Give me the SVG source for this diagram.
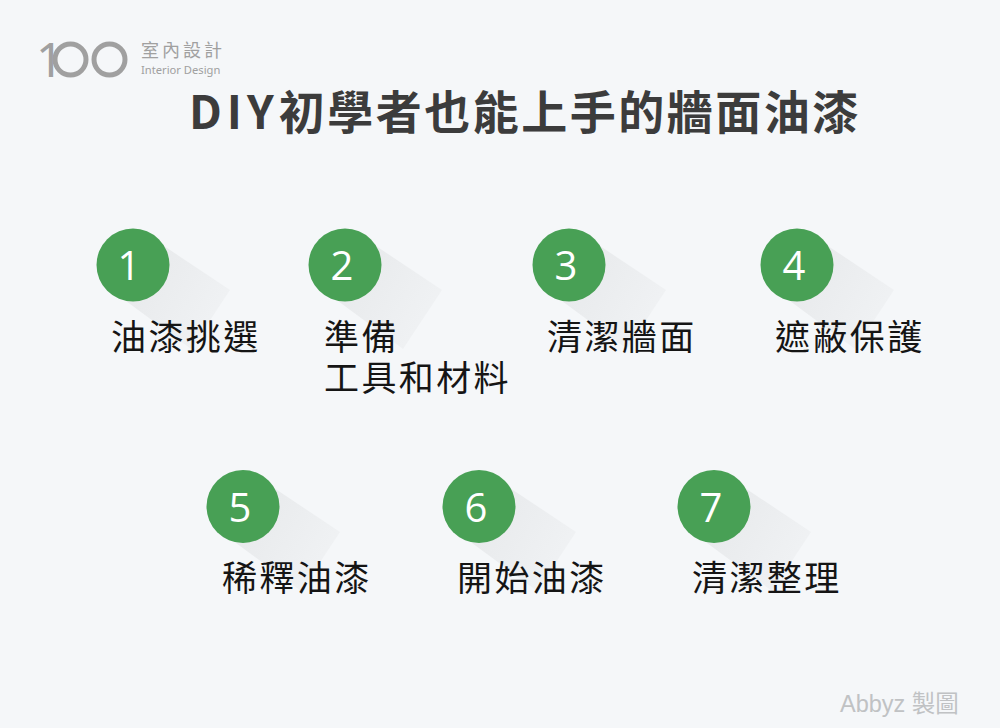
<svg xmlns="http://www.w3.org/2000/svg" width="1000" height="728" viewBox="0 0 1000 728">
<style>
text{font-family:"Liberation Sans","Noto Sans CJK TC",sans-serif}
.c{fill:#48a055}
.s{fill:url(#shg)}
.n{fill:#fff;font-size:40px;font-weight:400;text-anchor:middle;font-family:"Open Sans",Roboto,sans-serif}
.l{fill:#151515;font-size:35px;font-family:"Noto Sans CJK TC",sans-serif;letter-spacing:2.400px}
.lg{fill:#a0a0a0}
</style>
<defs>
<linearGradient id="shg" gradientUnits="objectBoundingBox" x1="0" y1="0" x2="1" y2="0.6"><stop offset="0" stop-color="#e6e8ea"/><stop offset="1" stop-color="#f0f2f4"/></linearGradient>
<polygon id="sh" points="25,-23 97,25 58,84 -7,36"/>
</defs>
<rect width="1000" height="728" fill="#f5f7f9"/>
<g id="logo">
<text class="lg" x="36" y="77" font-size="48" style="font-family:'Noto Sans',sans-serif">1</text>
<circle cx="70.500" cy="59.500" r="15.500" fill="none" stroke="#a0a0a0" stroke-width="5"/>
<circle cx="109.500" cy="59.500" r="15.500" fill="none" stroke="#a0a0a0" stroke-width="5"/>
<text class="lg" x="141" y="57" font-size="18" style="font-family:'Noto Sans CJK TC',sans-serif;letter-spacing:3px">室內設計</text>
<text class="lg" x="141" y="74" font-size="11.200" style="font-family:'Noto Sans',sans-serif">Interior Design</text>
</g>
<text id="title" x="189" y="129" font-size="46" font-weight="700" fill="#3c3c3c" style="font-family:'Noto Sans CJK TC',sans-serif;letter-spacing:2.500px"><tspan style="letter-spacing:5px">DIY</tspan>初學者也能上手的牆面油漆</text>
<g id="node1"><use href="#sh" class="s" x="133" y="265"/><circle class="c" cx="133" cy="265" r="36.500"/><text class="n" x="129" y="280">1</text><text class="l" x="111" y="350">油漆挑選</text></g>
<g id="node2"><use href="#sh" class="s" x="345" y="265"/><circle class="c" cx="345" cy="265" r="36.500"/><text class="n" x="342" y="280">2</text><text class="l" x="324" y="350">準備</text><text class="l" x="324" y="391">工具和材料</text></g>
<g id="node3"><use href="#sh" class="s" x="569" y="265"/><circle class="c" cx="569" cy="265" r="36.500"/><text class="n" x="566" y="280">3</text><text class="l" x="547" y="350">清潔牆面</text></g>
<g id="node4"><use href="#sh" class="s" x="797" y="265"/><circle class="c" cx="797" cy="265" r="36.500"/><text class="n" x="794" y="280">4</text><text class="l" x="775" y="350">遮蔽保護</text></g>
<g id="node5"><use href="#sh" class="s" x="243" y="507"/><circle class="c" cx="243" cy="506.500" r="36.500"/><text class="n" x="240" y="522">5</text><text class="l" x="222" y="591">稀釋油漆</text></g>
<g id="node6"><use href="#sh" class="s" x="479" y="507"/><circle class="c" cx="479" cy="506.500" r="36.500"/><text class="n" x="476" y="522">6</text><text class="l" x="457" y="591">開始油漆</text></g>
<g id="node7"><use href="#sh" class="s" x="714" y="507"/><circle class="c" cx="714" cy="506.500" r="36.500"/><text class="n" x="711" y="522">7</text><text class="l" x="692" y="591">清潔整理</text></g>
<text id="credit" x="840" y="712" font-size="23.500" fill="#c0c2c4" style="font-family:'Liberation Sans','Noto Sans CJK TC',sans-serif">Abbyz 製圖</text>
</svg>
